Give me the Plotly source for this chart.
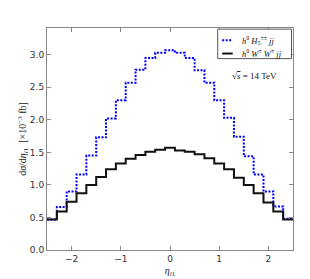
import numpy as np
import plotly.graph_objects as go

bin_centers = [-2.4, -2.2, -2.0, -1.8, -1.6, -1.4, -1.2, -1.0, -0.8, -0.6, -0.4, -0.2, 0.0,
               0.2, 0.4, 0.6, 0.8, 1.0, 1.2, 1.4, 1.6, 1.8, 2.0, 2.2, 2.4]
h5_values = [0.47, 0.66, 0.90, 1.16, 1.45, 1.73, 2.02, 2.30, 2.57, 2.77, 2.95, 3.03, 3.07,
             3.03, 2.95, 2.76, 2.57, 2.30, 2.03, 1.74, 1.44, 1.16, 0.90, 0.67, 0.48]
ww_values = [0.47, 0.59, 0.74, 0.87, 1.00, 1.12, 1.24, 1.33, 1.40, 1.46, 1.51, 1.54, 1.57,
             1.53, 1.51, 1.47, 1.41, 1.33, 1.24, 1.11, 1.00, 0.87, 0.73, 0.59, 0.47]
series_names = ["<i>h</i><sup>0</sup> <i>H</i><sub>5</sub><sup>±±</sup> <i>jj</i>",
                "<i>h</i><sup>0</sup> <i>W</i><sup>±</sup> <i>W</i><sup>±</sup> <i>jj</i>"]
bin_width = 0.2
y_ticks = [0.0, 0.5, 1.0, 1.5, 2.0, 2.5, 3.0]
x_ticks = [-2, -1, 0, 1, 2]

blue = "#0000ff"
black = "#111111"
blue_dash = "2px,1.5px"


def step_xy(centers, vals):
    c = np.array(centers)
    xs = list(c - bin_width / 2) + [c[-1] + bin_width / 2]
    ys = list(vals) + [vals[-1]]
    return xs, ys


fig = go.Figure()
xs, ys = step_xy(bin_centers, h5_values)
fig.add_trace(go.Scatter(x=xs, y=ys, mode="lines", line_shape="hv", showlegend=False,
                         line=dict(color=blue, width=2, dash=blue_dash),
                         name=series_names[0]))
xs, ys = step_xy(bin_centers, ww_values)
fig.add_trace(go.Scatter(x=xs, y=ys, mode="lines", line_shape="hv", showlegend=False,
                         line=dict(color=black, width=2),
                         name=series_names[1]))

axis_common = dict(showgrid=False, zeroline=False, showline=True, linecolor="#888888",
                   linewidth=1, mirror="ticks", ticks="inside", ticklen=4,
                   tickcolor="#888888", automargin=False,
                   tickfont=dict(family="DejaVu Sans", size=9, color="#333333"))

fig.update_xaxes(range=[-2.5, 2.5], tickvals=x_ticks,
                 title=dict(text="<i>η</i><sub><i>l</i>1</sub>",
                            font=dict(family="Liberation Serif", size=10, color="#222"),
                            standoff=4),
                 **axis_common)
fig.update_yaxes(range=[0, 3.41], tickvals=y_ticks, tickformat=".1f",
                 title=dict(text="d<i>σ</i>/d<i>η</i><sub><i>l</i>1</sub>  [×10<sup>−3</sup> fb]",
                            font=dict(family="Liberation Serif", size=10, color="#222"),
                            standoff=0),
                 **axis_common)

# legend box (drawn manually to match the compact matplotlib legend)
fig.add_shape(type="rect", xref="paper", yref="paper", x0=0.694, x1=0.994, y0=0.862, y1=0.995,
              line=dict(color="#555555", width=1), fillcolor="white", layer="above")
legend_y = [0.945, 0.885]
legend_styles = [dict(color=blue, width=2, dash=blue_dash), dict(color=black, width=2)]
for name, ly, st in zip(series_names, legend_y, legend_styles):
    fig.add_shape(type="line", xref="paper", yref="paper", x0=0.712, x1=0.755, y0=ly, y1=ly,
                  line=st, layer="above")
    fig.add_annotation(x=0.785, y=ly, xref="paper", yref="paper", xanchor="left",
                       yanchor="middle", showarrow=False, text=name,
                       font=dict(family="Liberation Serif", size=8.5, color="#111"))

fig.add_annotation(x=0.745, y=0.815, xref="paper", yref="paper", showarrow=False,
                   xanchor="left", bgcolor="rgba(0,0,0,0)",
                   text="√<span style='text-decoration:overline'><i>s</i></span> = 14 TeV",
                   font=dict(family="Liberation Serif", size=9, color="#111"))

fig.update_layout(
    width=302, height=271,
    margin=dict(l=39, r=17, t=20, b=29),
    plot_bgcolor="white", paper_bgcolor="white",
    showlegend=False,
)

fig.write_html("out.html")
